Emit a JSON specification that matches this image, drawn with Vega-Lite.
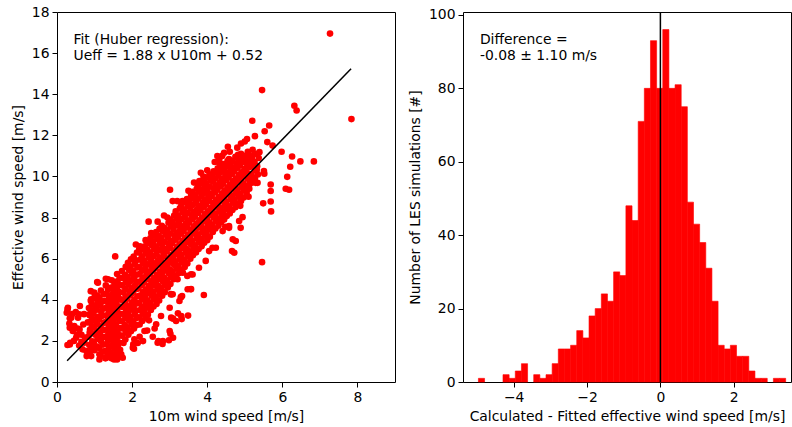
{
"$schema": "https://vega.github.io/schema/vega-lite/v6.json",
"autosize": {"type": "pad"},
"padding": {"left": 10, "top": 4, "right": 0, "bottom": 4},
"background": "white",
"spacing": 68,
"bounds": "flush",
"config": {
  "view": {"stroke": "#000", "strokeWidth": 1},
  "font": "DejaVu Sans",
  "axis": {"domain": false, "grid": false, "tickColor": "#000", "tickSize": 5, "tickWidth": 1, "labelFont": "DejaVu Sans", "labelFontSize": 13.9, "labelColor": "#000", "titleFont": "DejaVu Sans", "titleFontSize": 13.9, "titleFontWeight": "normal", "titleColor": "#000", "labelPadding": 3, "titlePadding": 6, "labelFlush": false}
},
"datasets": {
  "pts": [
{"u10":7.27,"ueff":16.95},{"u10":5.46,"ueff":14.2},{"u10":6.32,"ueff":13.44},{"u10":6.38,"ueff":13.21},{"u10":7.84,"ueff":12.79},{"u10":5.2,"ueff":12.71},{"u10":5.65,"ueff":12.48},{"u10":5.53,"ueff":12.2},{"u10":5.27,"ueff":11.96},{"u10":5.06,"ueff":11.82},{"u10":4.55,"ueff":11.44},{"u10":5.98,"ueff":11.2},{"u10":5.74,"ueff":11.5},{"u10":6.26,"ueff":10.97},{"u10":6.48,"ueff":10.73},{"u10":6.84,"ueff":10.73},{"u10":6.21,"ueff":10.47},{"u10":6.13,"ueff":9.98},{"u10":6.09,"ueff":9.4},{"u10":6.18,"ueff":9.35},{"u10":5.69,"ueff":9.29},{"u10":5.69,"ueff":8.78},{"u10":5.49,"ueff":8.69},{"u10":5.7,"ueff":8.3},{"u10":5.46,"ueff":5.83},{"u10":5.52,"ueff":10.13},{"u10":5.29,"ueff":9.69},{"u10":5.1,"ueff":9.01},{"u10":5.32,"ueff":10.34},{"u10":5.39,"ueff":11.18},{"u10":4.72,"ueff":6.29},{"u10":4.68,"ueff":6.94},{"u10":4.94,"ueff":8.02},{"u10":4.48,"ueff":7.55},{"u10":3.91,"ueff":4.23},{"u10":3.57,"ueff":4.52},{"u10":3.49,"ueff":3.23},{"u10":3.3,"ueff":4.12},{"u10":3.04,"ueff":4.26},{"u10":3.01,"ueff":9.35},{"u10":2.44,"ueff":7.8},{"u10":1.55,"ueff":6.11},{"u10":1.07,"ueff":4.86},{"u10":1.3,"ueff":5.02},{"u10":2.81,"ueff":1.85},{"u10":2.7,"ueff":1.99},{"u10":3.02,"ueff":2.35},{"u10":2.98,"ueff":2.03},{"u10":3.09,"ueff":3.08},{"u10":3.22,"ueff":3.34},{"u10":3.32,"ueff":3.06},{"u10":2.03,"ueff":1.83},{"u10":2.05,"ueff":1.62},{"u10":1.75,"ueff":1.18},{"u10":1.52,"ueff":1.1},{"u10":1.29,"ueff":1.15},{"u10":1.13,"ueff":1.35},{"u10":0.79,"ueff":1.26},{"u10":0.88,"ueff":1.51},{"u10":0.68,"ueff":1.59},{"u10":0.59,"ueff":1.77},{"u10":0.28,"ueff":1.8},{"u10":0.35,"ueff":1.91},{"u10":0.26,"ueff":3.37},{"u10":0.28,"ueff":3.53},{"u10":0.34,"ueff":3.1},{"u10":0.33,"ueff":2.84},{"u10":0.61,"ueff":3.7},{"u10":0.59,"ueff":3.29},{"u10":0.46,"ueff":2.72},{"u10":0.53,"ueff":2.29},{"u10":0.42,"ueff":2.48},{"u10":0.75,"ueff":2.16},{"u10":0.9,"ueff":4.42},{"u10":0.99,"ueff":4.1},{"u10":0.86,"ueff":3.29},{"u10":1.04,"ueff":2.97},
{"u10":4.05,"ueff":6.37},{"u10":4.66,"ueff":6.37},{"u10":3.56,"ueff":4.51},{"u10":3.3,"ueff":4.13},{"u10":3.03,"ueff":4.28},{"u10":4.76,"ueff":6.86},{"u10":4.89,"ueff":7.5},{"u10":4.58,"ueff":7.59},{"u10":4.23,"ueff":6.53},{"u10":3.96,"ueff":5.89},{"u10":3.78,"ueff":5.56},{"u10":3.47,"ueff":5.16},{"u10":3.21,"ueff":5.0},{"u10":2.68,"ueff":7.8},{"u10":3.34,"ueff":8.8},{"u10":3.83,"ueff":10.18},{"u10":4.32,"ueff":10.67},{"u10":2.1,"ueff":6.69},{"u10":1.97,"ueff":5.97},{"u10":2.19,"ueff":6.47},
{"u10":5.6,"ueff":11.67},{"u10":4.45,"ueff":11.15},{"u10":5.69,"ueff":9.61},{"u10":5.51,"ueff":10.26},{"u10":5.2,"ueff":9.94},{"u10":5.11,"ueff":9.53},{"u10":5.34,"ueff":9.69},{"u10":4.32,"ueff":10.83},
{"u10":3.9,"ueff":10.0},{"u10":4.0,"ueff":10.3},{"u10":4.2,"ueff":10.7},{"u10":4.4,"ueff":11.0},{"u10":4.6,"ueff":11.2},{"u10":4.8,"ueff":11.4},{"u10":4.9,"ueff":11.6},{"u10":5.0,"ueff":11.7},{"u10":2.85,"ueff":8.1},{"u10":3.2,"ueff":8.8},{"u10":3.5,"ueff":9.3},{"u10":3.65,"ueff":9.7},{"u10":4.27,"ueff":10.99},{"u10":3.79,"ueff":9.77},{"u10":3.61,"ueff":8.96},{"u10":3.08,"ueff":8.8},
{"u10":4.88,"ueff":8.57},{"u10":4.85,"ueff":7.83},{"u10":4.58,"ueff":7.5},{"u10":4.41,"ueff":7.34},{"u10":4.14,"ueff":6.53},{"u10":3.61,"ueff":5.23},
{"u10":0.29,"ueff":3.61},{"u10":0.38,"ueff":3.13},{"u10":0.34,"ueff":2.64},{"u10":0.34,"ueff":1.83},{"u10":0.56,"ueff":3.13},{"u10":0.6,"ueff":2.56},{"u10":0.51,"ueff":2.15},{"u10":0.78,"ueff":1.51},{"u10":0.73,"ueff":1.91},{"u10":0.91,"ueff":1.26},{"u10":0.87,"ueff":2.4},{"u10":0.91,"ueff":2.97},{"u10":0.96,"ueff":3.45},{"u10":0.91,"ueff":4.02},{"u10":1.09,"ueff":4.83},{"u10":1.36,"ueff":5.0},{"u10":1.13,"ueff":1.1},{"u10":1.31,"ueff":1.18},{"u10":1.53,"ueff":1.18},{"u10":1.71,"ueff":1.35},{"u10":1.62,"ueff":1.59},{"u10":2.02,"ueff":1.67},{"u10":2.06,"ueff":2.08},{"u10":2.29,"ueff":1.99},{"u10":2.33,"ueff":2.48},{"u10":2.64,"ueff":2.81},{"u10":2.77,"ueff":3.21},{"u10":3.04,"ueff":3.13},{"u10":3.0,"ueff":3.61},{"u10":3.26,"ueff":3.94},{"u10":3.08,"ueff":4.27},{"u10":3.33,"ueff":4.18},{"u10":3.31,"ueff":3.21},{"u10":3.17,"ueff":2.97},{"u10":2.82,"ueff":1.99},{"u10":2.68,"ueff":1.91},{"u10":3.0,"ueff":2.48},{"u10":3.09,"ueff":2.15},{"u10":3.35,"ueff":5.32},{"u10":3.57,"ueff":5.24},{"u10":3.57,"ueff":6.21},{"u10":3.48,"ueff":4.51},
{"u10":2.45,"ueff":3.0},{"u10":2.6,"ueff":2.6},{"u10":2.2,"ueff":2.2},{"u10":2.15,"ueff":1.9},{"u10":2.4,"ueff":2.5},{"u10":2.55,"ueff":2.2},
{"u10":0.45,"ueff":2.0},{"u10":0.5,"ueff":3.4},{"u10":0.65,"ueff":2.3},{"u10":0.7,"ueff":2.8},{"u10":0.72,"ueff":3.3},{"u10":0.65,"ueff":1.95},{"u10":0.4,"ueff":3.3},{"u10":0.55,"ueff":2.6},
{"u10":0.83,"ueff":1.45},{"u10":0.86,"ueff":1.8},{"u10":0.84,"ueff":2.2},{"u10":0.88,"ueff":2.55},{"u10":0.82,"ueff":2.9},{"u10":0.87,"ueff":3.25},{"u10":0.85,"ueff":3.6},{"u10":0.9,"ueff":3.95},
{"u10":1.0,"ueff":1.55},{"u10":0.98,"ueff":1.9},{"u10":1.02,"ueff":2.3},{"u10":0.99,"ueff":2.65},{"u10":1.03,"ueff":3.0},{"u10":0.97,"ueff":3.35},{"u10":1.01,"ueff":3.7},{"u10":1.04,"ueff":4.05},{"u10":0.99,"ueff":4.35},
{"u10":1.15,"ueff":1.3},{"u10":1.13,"ueff":1.65},{"u10":1.17,"ueff":2.0},{"u10":1.14,"ueff":2.35},{"u10":1.16,"ueff":2.7},{"u10":1.12,"ueff":3.05},{"u10":1.18,"ueff":3.4},{"u10":1.15,"ueff":3.75},{"u10":1.13,"ueff":4.1},{"u10":1.17,"ueff":4.45},
{"u10":1.3,"ueff":1.2},{"u10":1.28,"ueff":1.5},{"u10":1.32,"ueff":1.85},{"u10":1.29,"ueff":2.2},{"u10":1.31,"ueff":2.55},{"u10":1.27,"ueff":2.9},{"u10":1.33,"ueff":3.25},{"u10":1.3,"ueff":3.6},{"u10":1.28,"ueff":3.95},{"u10":1.32,"ueff":4.3},{"u10":1.3,"ueff":4.7},
{"u10":1.45,"ueff":1.15},{"u10":1.43,"ueff":1.45},{"u10":1.47,"ueff":1.8},{"u10":1.44,"ueff":2.15},{"u10":1.46,"ueff":2.5},{"u10":1.42,"ueff":2.85},{"u10":1.48,"ueff":3.2},{"u10":1.45,"ueff":3.55},{"u10":1.43,"ueff":3.9},{"u10":1.47,"ueff":4.25},{"u10":1.44,"ueff":4.6},{"u10":1.46,"ueff":4.95},
{"u10":1.6,"ueff":1.1},{"u10":1.58,"ueff":1.4},{"u10":1.62,"ueff":1.75},{"u10":1.59,"ueff":2.1},{"u10":1.61,"ueff":2.45},{"u10":1.57,"ueff":2.8},{"u10":1.63,"ueff":3.15},{"u10":1.6,"ueff":3.5},{"u10":1.58,"ueff":3.85},{"u10":1.62,"ueff":4.2},{"u10":1.59,"ueff":4.55},{"u10":1.61,"ueff":4.9},{"u10":1.6,"ueff":5.25},
{"u10":1.77,"ueff":1.9},{"u10":1.73,"ueff":2.25},{"u10":1.76,"ueff":2.6},{"u10":1.74,"ueff":2.95},{"u10":1.78,"ueff":3.3},{"u10":1.75,"ueff":3.65},{"u10":1.72,"ueff":4.0},{"u10":1.77,"ueff":4.35},{"u10":1.74,"ueff":4.7},{"u10":1.76,"ueff":5.05},{"u10":1.73,"ueff":5.4},
{"u10":1.9,"ueff":2.3},{"u10":1.88,"ueff":2.65},{"u10":1.92,"ueff":3.0},{"u10":1.89,"ueff":3.35},{"u10":1.91,"ueff":3.7},{"u10":1.87,"ueff":4.05},{"u10":1.93,"ueff":4.4},{"u10":1.9,"ueff":4.75},{"u10":1.88,"ueff":5.1},{"u10":1.92,"ueff":5.45},{"u10":1.89,"ueff":5.8},
{"u10":2.05,"ueff":2.6},{"u10":2.03,"ueff":2.95},{"u10":2.07,"ueff":3.3},{"u10":2.04,"ueff":3.65},{"u10":2.06,"ueff":4.0},{"u10":2.02,"ueff":4.35},{"u10":2.08,"ueff":4.7},{"u10":2.05,"ueff":5.05},{"u10":2.03,"ueff":5.4},{"u10":2.07,"ueff":5.75},{"u10":2.04,"ueff":6.1},
{"u10":2.2,"ueff":2.8},{"u10":2.18,"ueff":3.15},{"u10":2.22,"ueff":3.5},{"u10":2.19,"ueff":3.85},{"u10":2.21,"ueff":4.2},{"u10":2.17,"ueff":4.55},{"u10":2.23,"ueff":4.9},{"u10":2.2,"ueff":5.25},{"u10":2.18,"ueff":5.6},{"u10":2.22,"ueff":5.95},{"u10":2.19,"ueff":6.3},{"u10":2.21,"ueff":6.6},
{"u10":2.35,"ueff":3.1},{"u10":2.33,"ueff":3.45},{"u10":2.37,"ueff":3.8},{"u10":2.34,"ueff":4.15},{"u10":2.36,"ueff":4.5},{"u10":2.32,"ueff":4.85},{"u10":2.38,"ueff":5.2},{"u10":2.35,"ueff":5.55},{"u10":2.33,"ueff":5.9},{"u10":2.37,"ueff":6.25},{"u10":2.34,"ueff":6.6},{"u10":2.36,"ueff":6.9},
{"u10":2.5,"ueff":3.5},{"u10":2.48,"ueff":3.85},{"u10":2.52,"ueff":4.2},{"u10":2.49,"ueff":4.55},{"u10":2.51,"ueff":4.9},{"u10":2.47,"ueff":5.25},{"u10":2.53,"ueff":5.6},{"u10":2.5,"ueff":5.95},{"u10":2.48,"ueff":6.3},{"u10":2.52,"ueff":6.65},{"u10":2.49,"ueff":7.0},{"u10":2.51,"ueff":7.25},
{"u10":2.65,"ueff":3.8},{"u10":2.63,"ueff":4.15},{"u10":2.67,"ueff":4.5},{"u10":2.64,"ueff":4.85},{"u10":2.66,"ueff":5.2},{"u10":2.62,"ueff":5.55},{"u10":2.68,"ueff":5.9},{"u10":2.65,"ueff":6.25},{"u10":2.63,"ueff":6.6},{"u10":2.67,"ueff":6.95},{"u10":2.64,"ueff":7.3},
{"u10":2.8,"ueff":4.2},{"u10":2.78,"ueff":4.55},{"u10":2.82,"ueff":4.9},{"u10":2.79,"ueff":5.25},{"u10":2.81,"ueff":5.6},{"u10":2.77,"ueff":5.95},{"u10":2.83,"ueff":6.3},{"u10":2.8,"ueff":6.65},{"u10":2.78,"ueff":7.0},{"u10":2.82,"ueff":7.35},{"u10":2.79,"ueff":7.6},
{"u10":2.95,"ueff":4.6},{"u10":2.93,"ueff":4.95},{"u10":2.97,"ueff":5.3},{"u10":2.94,"ueff":5.65},{"u10":2.96,"ueff":6.0},{"u10":2.92,"ueff":6.35},{"u10":2.98,"ueff":6.7},{"u10":2.95,"ueff":7.05},{"u10":2.93,"ueff":7.4},{"u10":2.97,"ueff":7.75},{"u10":2.94,"ueff":8.0},
{"u10":3.1,"ueff":5.0},{"u10":3.08,"ueff":5.35},{"u10":3.12,"ueff":5.7},{"u10":3.09,"ueff":6.05},{"u10":3.11,"ueff":6.4},{"u10":3.07,"ueff":6.75},{"u10":3.13,"ueff":7.1},{"u10":3.1,"ueff":7.45},{"u10":3.08,"ueff":7.8},{"u10":3.12,"ueff":8.1},
{"u10":3.25,"ueff":5.3},{"u10":3.23,"ueff":5.65},{"u10":3.27,"ueff":6.0},{"u10":3.24,"ueff":6.35},{"u10":3.26,"ueff":6.7},{"u10":3.22,"ueff":7.05},{"u10":3.28,"ueff":7.4},{"u10":3.25,"ueff":7.75},{"u10":3.23,"ueff":8.1},{"u10":3.27,"ueff":8.45},
{"u10":3.4,"ueff":5.6},{"u10":3.38,"ueff":5.95},{"u10":3.42,"ueff":6.3},{"u10":3.39,"ueff":6.65},{"u10":3.41,"ueff":7.0},{"u10":3.37,"ueff":7.35},{"u10":3.43,"ueff":7.7},{"u10":3.4,"ueff":8.05},{"u10":3.38,"ueff":8.4},{"u10":3.42,"ueff":8.75},
{"u10":3.55,"ueff":6.0},{"u10":3.53,"ueff":6.35},{"u10":3.57,"ueff":6.7},{"u10":3.54,"ueff":7.05},{"u10":3.56,"ueff":7.4},{"u10":3.52,"ueff":7.75},{"u10":3.58,"ueff":8.1},{"u10":3.55,"ueff":8.45},{"u10":3.53,"ueff":8.8},{"u10":3.57,"ueff":9.1},
{"u10":3.7,"ueff":6.3},{"u10":3.68,"ueff":6.65},{"u10":3.72,"ueff":7.0},{"u10":3.69,"ueff":7.35},{"u10":3.71,"ueff":7.7},{"u10":3.67,"ueff":8.05},{"u10":3.73,"ueff":8.4},{"u10":3.7,"ueff":8.75},{"u10":3.68,"ueff":9.1},{"u10":3.72,"ueff":9.4},
{"u10":3.85,"ueff":6.6},{"u10":3.83,"ueff":6.95},{"u10":3.87,"ueff":7.3},{"u10":3.84,"ueff":7.65},{"u10":3.86,"ueff":8.0},{"u10":3.82,"ueff":8.35},{"u10":3.88,"ueff":8.7},{"u10":3.85,"ueff":9.05},{"u10":3.83,"ueff":9.35},{"u10":3.87,"ueff":9.65},
{"u10":4.0,"ueff":6.9},{"u10":3.98,"ueff":7.25},{"u10":4.02,"ueff":7.6},{"u10":3.99,"ueff":7.95},{"u10":4.01,"ueff":8.3},{"u10":3.97,"ueff":8.65},{"u10":4.03,"ueff":9.0},{"u10":4.0,"ueff":9.35},{"u10":3.98,"ueff":9.65},{"u10":4.02,"ueff":9.95},
{"u10":4.15,"ueff":7.3},{"u10":4.13,"ueff":7.65},{"u10":4.17,"ueff":8.0},{"u10":4.14,"ueff":8.35},{"u10":4.16,"ueff":8.7},{"u10":4.12,"ueff":9.05},{"u10":4.18,"ueff":9.4},{"u10":4.15,"ueff":9.75},{"u10":4.13,"ueff":10.05},{"u10":4.17,"ueff":10.25},
{"u10":4.3,"ueff":7.6},{"u10":4.28,"ueff":7.95},{"u10":4.32,"ueff":8.3},{"u10":4.29,"ueff":8.65},{"u10":4.31,"ueff":9.0},{"u10":4.27,"ueff":9.35},{"u10":4.33,"ueff":9.7},{"u10":4.3,"ueff":10.05},{"u10":4.28,"ueff":10.4},
{"u10":4.45,"ueff":7.9},{"u10":4.43,"ueff":8.25},{"u10":4.47,"ueff":8.6},{"u10":4.44,"ueff":8.95},{"u10":4.46,"ueff":9.3},{"u10":4.42,"ueff":9.65},{"u10":4.48,"ueff":10.0},{"u10":4.45,"ueff":10.35},{"u10":4.43,"ueff":10.6},
{"u10":4.6,"ueff":8.2},{"u10":4.58,"ueff":8.55},{"u10":4.62,"ueff":8.9},{"u10":4.59,"ueff":9.25},{"u10":4.61,"ueff":9.6},{"u10":4.57,"ueff":9.95},{"u10":4.63,"ueff":10.3},{"u10":4.6,"ueff":10.6},{"u10":4.58,"ueff":10.85},
{"u10":4.75,"ueff":8.5},{"u10":4.73,"ueff":8.85},{"u10":4.77,"ueff":9.2},{"u10":4.74,"ueff":9.55},{"u10":4.76,"ueff":9.9},{"u10":4.72,"ueff":10.25},{"u10":4.78,"ueff":10.6},{"u10":4.75,"ueff":10.95},
{"u10":4.9,"ueff":8.8},{"u10":4.88,"ueff":9.15},{"u10":4.92,"ueff":9.5},{"u10":4.89,"ueff":9.85},{"u10":4.91,"ueff":10.2},{"u10":4.87,"ueff":10.55},{"u10":4.93,"ueff":10.85},{"u10":4.9,"ueff":11.1},
{"u10":5.05,"ueff":9.2},{"u10":5.03,"ueff":9.55},{"u10":5.07,"ueff":9.9},{"u10":5.04,"ueff":10.25},{"u10":5.06,"ueff":10.6},{"u10":5.02,"ueff":10.9},{"u10":5.08,"ueff":11.2},
{"u10":5.2,"ueff":9.7},{"u10":5.18,"ueff":10.1},{"u10":5.22,"ueff":10.5},{"u10":5.19,"ueff":10.9},{"u10":5.21,"ueff":11.3},
{"u10":5.35,"ueff":10.1},{"u10":5.33,"ueff":10.5},{"u10":5.37,"ueff":10.9},
{"u10":0.93,"ueff":1.62},{"u10":0.94,"ueff":1.98},{"u10":0.92,"ueff":2.37},{"u10":0.93,"ueff":2.72},{"u10":0.95,"ueff":3.07},{"u10":0.92,"ueff":3.42},{"u10":0.93,"ueff":3.78},
{"u10":1.07,"ueff":1.72},{"u10":1.08,"ueff":2.1},{"u10":1.06,"ueff":2.47},{"u10":1.07,"ueff":2.82},{"u10":1.09,"ueff":3.17},{"u10":1.06,"ueff":3.52},{"u10":1.08,"ueff":3.87},{"u10":1.07,"ueff":4.2},
{"u10":1.22,"ueff":1.47},{"u10":1.23,"ueff":1.82},{"u10":1.21,"ueff":2.17},{"u10":1.22,"ueff":2.52},{"u10":1.24,"ueff":2.87},{"u10":1.21,"ueff":3.22},{"u10":1.23,"ueff":3.57},{"u10":1.22,"ueff":3.92},{"u10":1.24,"ueff":4.27},
{"u10":1.37,"ueff":1.35},{"u10":1.38,"ueff":1.67},{"u10":1.36,"ueff":2.02},{"u10":1.37,"ueff":2.37},{"u10":1.39,"ueff":2.72},{"u10":1.36,"ueff":3.07},{"u10":1.38,"ueff":3.42},{"u10":1.37,"ueff":3.77},{"u10":1.39,"ueff":4.12},{"u10":1.36,"ueff":4.5},
{"u10":1.52,"ueff":1.3},{"u10":1.53,"ueff":1.62},{"u10":1.51,"ueff":1.97},{"u10":1.52,"ueff":2.32},{"u10":1.54,"ueff":2.67},{"u10":1.51,"ueff":3.02},{"u10":1.53,"ueff":3.37},{"u10":1.52,"ueff":3.72},{"u10":1.54,"ueff":4.07},{"u10":1.51,"ueff":4.42},{"u10":1.53,"ueff":4.77},
{"u10":1.67,"ueff":1.25},{"u10":1.68,"ueff":1.57},{"u10":1.66,"ueff":1.92},{"u10":1.67,"ueff":2.27},{"u10":1.69,"ueff":2.62},{"u10":1.66,"ueff":2.97},{"u10":1.68,"ueff":3.32},{"u10":1.67,"ueff":3.67},{"u10":1.69,"ueff":4.02},{"u10":1.66,"ueff":4.37},{"u10":1.68,"ueff":4.72},{"u10":1.67,"ueff":5.07},
{"u10":1.82,"ueff":2.07},{"u10":1.83,"ueff":2.42},{"u10":1.81,"ueff":2.77},{"u10":1.82,"ueff":3.12},{"u10":1.84,"ueff":3.47},{"u10":1.81,"ueff":3.82},{"u10":1.83,"ueff":4.17},{"u10":1.82,"ueff":4.52},{"u10":1.84,"ueff":4.87},{"u10":1.81,"ueff":5.22},{"u10":1.83,"ueff":5.6},
{"u10":1.97,"ueff":2.47},{"u10":1.98,"ueff":2.82},{"u10":1.96,"ueff":3.17},{"u10":1.97,"ueff":3.52},{"u10":1.99,"ueff":3.87},{"u10":1.96,"ueff":4.22},{"u10":1.98,"ueff":4.57},{"u10":1.97,"ueff":4.92},{"u10":1.99,"ueff":5.27},{"u10":1.96,"ueff":5.62},
{"u10":2.12,"ueff":2.77},{"u10":2.13,"ueff":3.12},{"u10":2.11,"ueff":3.47},{"u10":2.12,"ueff":3.82},{"u10":2.14,"ueff":4.17},{"u10":2.11,"ueff":4.52},{"u10":2.13,"ueff":4.87},{"u10":2.12,"ueff":5.22},{"u10":2.14,"ueff":5.57},{"u10":2.11,"ueff":5.92},{"u10":2.13,"ueff":6.3},
{"u10":2.27,"ueff":2.97},{"u10":2.28,"ueff":3.32},{"u10":2.26,"ueff":3.67},{"u10":2.27,"ueff":4.02},{"u10":2.29,"ueff":4.37},{"u10":2.26,"ueff":4.72},{"u10":2.28,"ueff":5.07},{"u10":2.27,"ueff":5.42},{"u10":2.29,"ueff":5.77},{"u10":2.26,"ueff":6.12},{"u10":2.28,"ueff":6.45},
{"u10":2.42,"ueff":3.27},{"u10":2.43,"ueff":3.62},{"u10":2.41,"ueff":3.97},{"u10":2.42,"ueff":4.32},{"u10":2.44,"ueff":4.67},{"u10":2.41,"ueff":5.02},{"u10":2.43,"ueff":5.37},{"u10":2.42,"ueff":5.72},{"u10":2.44,"ueff":6.07},{"u10":2.41,"ueff":6.42},{"u10":2.43,"ueff":6.75},
{"u10":2.57,"ueff":3.67},{"u10":2.58,"ueff":4.02},{"u10":2.56,"ueff":4.37},{"u10":2.57,"ueff":4.72},{"u10":2.59,"ueff":5.07},{"u10":2.56,"ueff":5.42},{"u10":2.58,"ueff":5.77},{"u10":2.57,"ueff":6.12},{"u10":2.59,"ueff":6.47},{"u10":2.56,"ueff":6.82},{"u10":2.58,"ueff":7.12},
{"u10":2.72,"ueff":3.97},{"u10":2.73,"ueff":4.32},{"u10":2.71,"ueff":4.67},{"u10":2.72,"ueff":5.02},{"u10":2.74,"ueff":5.37},{"u10":2.71,"ueff":5.72},{"u10":2.73,"ueff":6.07},{"u10":2.72,"ueff":6.42},{"u10":2.74,"ueff":6.77},{"u10":2.71,"ueff":7.12},{"u10":2.73,"ueff":7.45},
{"u10":2.87,"ueff":4.37},{"u10":2.88,"ueff":4.72},{"u10":2.86,"ueff":5.07},{"u10":2.87,"ueff":5.42},{"u10":2.89,"ueff":5.77},{"u10":2.86,"ueff":6.12},{"u10":2.88,"ueff":6.47},{"u10":2.87,"ueff":6.82},{"u10":2.89,"ueff":7.17},{"u10":2.86,"ueff":7.5},
{"u10":3.02,"ueff":4.77},{"u10":3.03,"ueff":5.12},{"u10":3.01,"ueff":5.47},{"u10":3.02,"ueff":5.82},{"u10":3.04,"ueff":6.17},{"u10":3.01,"ueff":6.52},{"u10":3.03,"ueff":6.87},{"u10":3.02,"ueff":7.22},{"u10":3.04,"ueff":7.57},{"u10":3.01,"ueff":7.9},
{"u10":3.17,"ueff":5.17},{"u10":3.18,"ueff":5.52},{"u10":3.16,"ueff":5.87},{"u10":3.17,"ueff":6.22},{"u10":3.19,"ueff":6.57},{"u10":3.16,"ueff":6.92},{"u10":3.18,"ueff":7.27},{"u10":3.17,"ueff":7.62},{"u10":3.19,"ueff":7.95},{"u10":3.16,"ueff":8.3},
{"u10":3.32,"ueff":5.47},{"u10":3.33,"ueff":5.82},{"u10":3.31,"ueff":6.17},{"u10":3.32,"ueff":6.52},{"u10":3.34,"ueff":6.87},{"u10":3.31,"ueff":7.22},{"u10":3.33,"ueff":7.57},{"u10":3.32,"ueff":7.92},{"u10":3.34,"ueff":8.27},{"u10":3.31,"ueff":8.6},
{"u10":3.47,"ueff":5.77},{"u10":3.48,"ueff":6.12},{"u10":3.46,"ueff":6.47},{"u10":3.47,"ueff":6.82},{"u10":3.49,"ueff":7.17},{"u10":3.46,"ueff":7.52},{"u10":3.48,"ueff":7.87},{"u10":3.47,"ueff":8.22},{"u10":3.49,"ueff":8.57},{"u10":3.46,"ueff":8.9},
{"u10":3.62,"ueff":6.17},{"u10":3.63,"ueff":6.52},{"u10":3.61,"ueff":6.87},{"u10":3.62,"ueff":7.22},{"u10":3.64,"ueff":7.57},{"u10":3.61,"ueff":7.92},{"u10":3.63,"ueff":8.27},{"u10":3.62,"ueff":8.62},{"u10":3.64,"ueff":8.95},{"u10":3.61,"ueff":9.25},
{"u10":3.77,"ueff":6.47},{"u10":3.78,"ueff":6.82},{"u10":3.76,"ueff":7.17},{"u10":3.77,"ueff":7.52},{"u10":3.79,"ueff":7.87},{"u10":3.76,"ueff":8.22},{"u10":3.78,"ueff":8.57},{"u10":3.77,"ueff":8.92},{"u10":3.79,"ueff":9.25},{"u10":3.76,"ueff":9.55},
{"u10":3.92,"ueff":6.77},{"u10":3.93,"ueff":7.12},{"u10":3.91,"ueff":7.47},{"u10":3.92,"ueff":7.82},{"u10":3.94,"ueff":8.17},{"u10":3.91,"ueff":8.52},{"u10":3.93,"ueff":8.87},{"u10":3.92,"ueff":9.2},{"u10":3.94,"ueff":9.5},{"u10":3.91,"ueff":9.8},
{"u10":4.07,"ueff":7.07},{"u10":4.08,"ueff":7.42},{"u10":4.06,"ueff":7.77},{"u10":4.07,"ueff":8.12},{"u10":4.09,"ueff":8.47},{"u10":4.06,"ueff":8.82},{"u10":4.08,"ueff":9.17},{"u10":4.07,"ueff":9.5},{"u10":4.09,"ueff":9.8},{"u10":4.06,"ueff":10.1},
{"u10":4.22,"ueff":7.47},{"u10":4.23,"ueff":7.82},{"u10":4.21,"ueff":8.17},{"u10":4.22,"ueff":8.52},{"u10":4.24,"ueff":8.87},{"u10":4.21,"ueff":9.22},{"u10":4.23,"ueff":9.57},{"u10":4.22,"ueff":9.9},{"u10":4.24,"ueff":10.2},
{"u10":4.37,"ueff":7.77},{"u10":4.38,"ueff":8.12},{"u10":4.36,"ueff":8.47},{"u10":4.37,"ueff":8.82},{"u10":4.39,"ueff":9.17},{"u10":4.36,"ueff":9.52},{"u10":4.38,"ueff":9.87},{"u10":4.37,"ueff":10.22},{"u10":4.39,"ueff":10.5},
{"u10":4.52,"ueff":8.07},{"u10":4.53,"ueff":8.42},{"u10":4.51,"ueff":8.77},{"u10":4.52,"ueff":9.12},{"u10":4.54,"ueff":9.47},{"u10":4.51,"ueff":9.82},{"u10":4.53,"ueff":10.17},{"u10":4.52,"ueff":10.47},{"u10":4.54,"ueff":10.75},
{"u10":4.67,"ueff":8.37},{"u10":4.68,"ueff":8.72},{"u10":4.66,"ueff":9.07},{"u10":4.67,"ueff":9.42},{"u10":4.69,"ueff":9.77},{"u10":4.66,"ueff":10.12},{"u10":4.68,"ueff":10.45},{"u10":4.67,"ueff":10.75},
{"u10":4.82,"ueff":8.67},{"u10":4.83,"ueff":9.02},{"u10":4.81,"ueff":9.37},{"u10":4.82,"ueff":9.72},{"u10":4.84,"ueff":10.07},{"u10":4.81,"ueff":10.42},{"u10":4.83,"ueff":10.77},{"u10":4.82,"ueff":11.05},
{"u10":4.97,"ueff":8.97},{"u10":4.98,"ueff":9.32},{"u10":4.96,"ueff":9.67},{"u10":4.97,"ueff":10.02},{"u10":4.99,"ueff":10.37},{"u10":4.96,"ueff":10.7},{"u10":4.98,"ueff":11.0},
{"u10":5.12,"ueff":9.4},{"u10":5.13,"ueff":9.75},{"u10":5.11,"ueff":10.1},{"u10":5.12,"ueff":10.45},{"u10":5.14,"ueff":10.75},{"u10":5.11,"ueff":11.05},
{"u10":5.27,"ueff":9.9},{"u10":5.28,"ueff":10.3},{"u10":5.26,"ueff":10.7},{"u10":5.27,"ueff":11.1}
  ],
  "fit": [{"u10": 0.27, "ueff": 1.03}, {"u10": 7.83, "ueff": 15.24}],
  "note1": [{"u10": 0.44, "ueff": 16.43, "label": "Fit (Huber regression):\nUeff = 1.88 x U10m + 0.52"}],
  "hist": [
{"b0":-4.96,"b1":-4.7925,"n":1},{"b0":-4.29,"b1":-4.1225,"n":2},{"b0":-4.1225,"b1":-3.955,"n":1},{"b0":-3.955,"b1":-3.7875,"n":3},{"b0":-3.7875,"b1":-3.62,"n":5},{"b0":-3.4525,"b1":-3.285,"n":2},{"b0":-3.285,"b1":-3.1175,"n":1},{"b0":-3.1175,"b1":-2.95,"n":2},{"b0":-2.95,"b1":-2.7825,"n":5},{"b0":-2.7825,"b1":-2.615,"n":9},{"b0":-2.615,"b1":-2.4475,"n":9},{"b0":-2.4475,"b1":-2.28,"n":10},{"b0":-2.28,"b1":-2.1125,"n":14},{"b0":-2.1125,"b1":-1.945,"n":12},{"b0":-1.945,"b1":-1.7775,"n":18},{"b0":-1.7775,"b1":-1.61,"n":20},{"b0":-1.61,"b1":-1.4425,"n":24},{"b0":-1.4425,"b1":-1.275,"n":22},{"b0":-1.275,"b1":-1.1075,"n":30},{"b0":-1.1075,"b1":-0.94,"n":29},{"b0":-0.94,"b1":-0.7725,"n":48},{"b0":-0.7725,"b1":-0.605,"n":44},{"b0":-0.605,"b1":-0.4375,"n":71},{"b0":-0.4375,"b1":-0.27,"n":80},{"b0":-0.27,"b1":-0.1025,"n":93},{"b0":-0.1025,"b1":0.065,"n":80},{"b0":0.065,"b1":0.2325,"n":96},{"b0":0.2325,"b1":0.4,"n":80},{"b0":0.4,"b1":0.5675,"n":81},{"b0":0.5675,"b1":0.735,"n":75},{"b0":0.735,"b1":0.9025,"n":49},{"b0":0.9025,"b1":1.07,"n":43},{"b0":1.07,"b1":1.2375,"n":38},{"b0":1.2375,"b1":1.405,"n":31},{"b0":1.405,"b1":1.5725,"n":22},{"b0":1.5725,"b1":1.74,"n":10},{"b0":1.74,"b1":1.9075,"n":9},{"b0":1.9075,"b1":2.075,"n":10},{"b0":2.075,"b1":2.2425,"n":7},{"b0":2.2425,"b1":2.41,"n":7},{"b0":2.41,"b1":2.5775,"n":3},{"b0":2.5775,"b1":2.745,"n":1},{"b0":2.745,"b1":2.9125,"n":1},{"b0":3.08,"b1":3.2475,"n":1},{"b0":3.2475,"b1":3.415,"n":1}
  ],
  "zero": [{"b0": 0}],
  "note2": [{"b0": -4.92, "n": 92.0, "label": "Difference =\n-0.08 ± 1.10 m/s"}]
},
"hconcat": [
  {
    "width": 338, "height": 370,
    "layer": [
      {
        "data": {"name": "pts"},
        "mark": {"type": "circle", "size": 44, "opacity": 1, "color": "#ff0000"},
        "encoding": {
          "x": {"field": "u10", "type": "quantitative", "title": "10m wind speed [m/s]", "scale": {"domain": [0, 9], "nice": false, "zero": false}, "axis": {"values": [0, 2, 4, 6, 8]}},
          "y": {"field": "ueff", "type": "quantitative", "title": "Effective wind speed [m/s]", "scale": {"domain": [0, 18], "nice": false, "zero": false}, "axis": {"values": [0, 2, 4, 6, 8, 10, 12, 14, 16, 18]}}
        }
      },
      {
        "data": {"name": "fit"},
        "mark": {"type": "line", "color": "#000", "strokeWidth": 1.5},
        "encoding": {
          "x": {"field": "u10", "type": "quantitative", "title": "10m wind speed [m/s]"},
          "y": {"field": "ueff", "type": "quantitative", "title": "Effective wind speed [m/s]"}
        }
      },
      {
        "data": {"name": "note1"},
        "mark": {"type": "text", "align": "left", "baseline": "alphabetic", "lineBreak": "\n", "lineHeight": 15.7, "fontSize": 13.9, "font": "DejaVu Sans", "color": "#000"},
        "encoding": {
          "x": {"field": "u10", "type": "quantitative", "title": "10m wind speed [m/s]"},
          "y": {"field": "ueff", "type": "quantitative", "title": "Effective wind speed [m/s]"},
          "text": {"field": "label"}
        }
      }
    ]
  },
  {
    "width": 328, "height": 370,
    "layer": [
      {
        "data": {"name": "hist"},
        "mark": {"type": "bar", "color": "#ff0000", "stroke": "#ff0000", "strokeWidth": 0.6},
        "encoding": {
          "x": {"field": "b0", "type": "quantitative", "title": "Calculated - Fitted effective wind speed [m/s]", "scale": {"domain": [-5.38, 3.56], "nice": false, "zero": false}, "axis": {"values": [-4, -2, 0, 2]}},
          "x2": {"field": "b1"},
          "y": {"field": "n", "type": "quantitative", "title": "Number of LES simulations [#]", "scale": {"domain": [0, 100.8], "nice": false}, "axis": {"values": [0, 20, 40, 60, 80, 100]}},
          "y2": {"datum": 0}
        }
      },
      {
        "data": {"name": "zero"},
        "mark": {"type": "rule", "color": "#000", "strokeWidth": 1.5},
        "encoding": {
          "x": {"field": "b0", "type": "quantitative", "title": "Calculated - Fitted effective wind speed [m/s]"}
        }
      },
      {
        "data": {"name": "note2"},
        "mark": {"type": "text", "align": "left", "baseline": "alphabetic", "lineBreak": "\n", "lineHeight": 15.7, "fontSize": 13.9, "font": "DejaVu Sans", "color": "#000"},
        "encoding": {
          "x": {"field": "b0", "type": "quantitative", "title": "Calculated - Fitted effective wind speed [m/s]"},
          "y": {"field": "n", "type": "quantitative", "title": "Number of LES simulations [#]"},
          "text": {"field": "label"}
        }
      }
    ]
  }
]
}
